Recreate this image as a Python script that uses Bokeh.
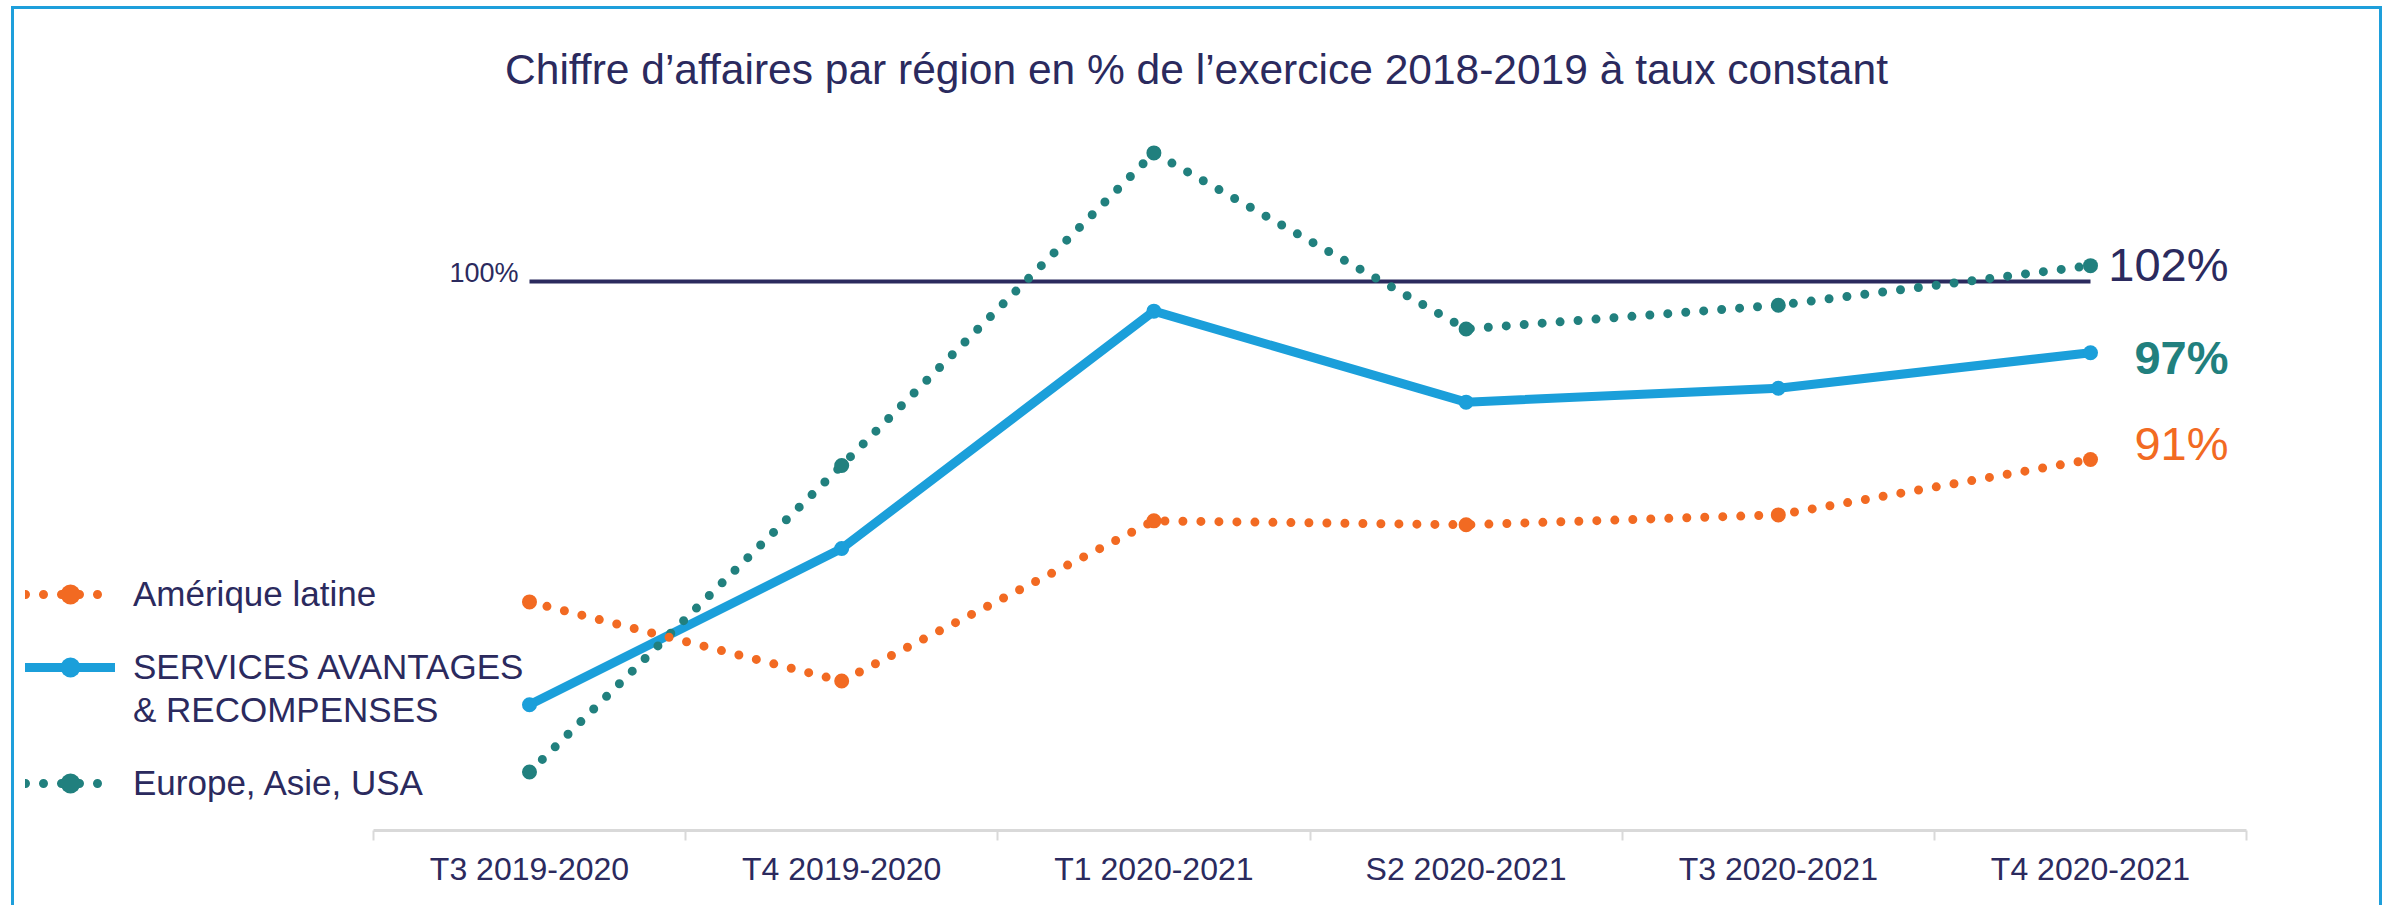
from bokeh.plotting import figure
from bokeh.models import (Range1d, FixedTicker, Legend, LegendItem, Label, BoxAnnotation)
from bokeh.embed import file_html
from bokeh.resources import INLINE
from bokeh.core.properties import value

# ---------------- data ----------------
categories = ["T3 2019-2020", "T4 2019-2020", "T1 2020-2021",
              "S2 2020-2021", "T3 2020-2021", "T4 2020-2021"]
amerique_latine = [83.8, 79.8, 87.9, 87.7, 88.2, 91.0]
services_avantages = [78.6, 86.5, 98.5, 93.9, 94.6, 96.4]
europe_asie_usa = [75.2, 90.7, 106.5, 97.6, 98.8, 100.8]
reference_level = 100
reference_label = "100%"
end_label_amerique = "91%"
end_label_services = "97%"
end_label_europe = "102%"
name_amerique = "Amérique latine"
name_services_1 = "SERVICES AVANTAGES"
name_services_2 = "& RECOMPENSES"
name_europe = "Europe, Asie, USA"
title_text = "Chiffre d’affaires par région en % de l’exercice 2018-2019 à taux constant"

# ---------------- style ----------------
NAVY = "#2B2A5E"
ORANGE = "#F26A22"
BLUE = "#1B9FDA"
TEAL = "#21807E"
FRAME_BLUE = "#1E9FDB"
AXIS_GREY = "#D9D9D9"
FONT = "Liberation Sans"

W, H = 2392, 905
FRAME_H = 830
xs = list(range(len(categories)))

grad = f"linear-gradient({FRAME_BLUE},{FRAME_BLUE})"
host_bg = (f"{grad} 11px 6px / 3px 899px no-repeat, "
           f"{grad} 2379px 6px / 3px 899px no-repeat, "
           f"{grad} 11px 6px / 2371px 3px no-repeat, white")

p = figure(width=W, height=H,
           x_range=Range1d(-1.6944, 5.9673), y_range=Range1d(72.244, 114.206),
           output_backend="svg", toolbar_location=None, y_axis_location=None,
           min_border_left=0, min_border_right=0, min_border_top=0, min_border_bottom=H - FRAME_H,
           styles={"background": host_bg})
p.outline_line_color = None
p.grid.visible = False
p.background_fill_color = None
p.border_fill_color = None

ax = p.xaxis[0]
ax.ticker = FixedTicker(ticks=xs, minor_ticks=[i - 0.5 for i in range(len(categories) + 1)])
ax.bounds = (-0.5, len(categories) - 0.5)
ax.major_label_overrides = {i: c for i, c in enumerate(categories)}
ax.major_tick_line_color = None
ax.major_tick_in = 0
ax.major_tick_out = 0
ax.minor_tick_line_color = AXIS_GREY
ax.minor_tick_line_width = 2
ax.minor_tick_in = 0
ax.minor_tick_out = 10
ax.axis_line_color = AXIS_GREY
ax.axis_line_width = 3
ax.major_label_text_font = FONT
ax.major_label_text_font_size = "32px"
ax.major_label_text_color = NAVY
ax.major_label_standoff = 10

# reference line 100%
p.line(x=[xs[0], xs[-1]], y=[reference_level, reference_level], line_color=NAVY, line_width=4)
p.text(x=[xs[0]], y=[reference_level], text=[reference_label], x_offset=-11, y_offset=-8,
       text_align="right", text_baseline="middle", text_font=value(FONT),
       text_font_size="27px", text_color=NAVY)

# series
r_bl = p.line(xs, services_avantages, line_color=BLUE, line_width=9, line_join="round", line_cap="round")
r_bm = p.scatter(xs, services_avantages, size=15, fill_color=BLUE, line_color=None)
r_tl = p.line(xs, europe_asie_usa, line_color=TEAL, line_width=9, line_dash="0 18", line_cap="round")
r_tm = p.scatter(xs, europe_asie_usa, size=15, fill_color=TEAL, line_color=None)
r_ol = p.line(xs, amerique_latine, line_color=ORANGE, line_width=9, line_dash="0 18", line_cap="round")
r_om = p.scatter(xs, amerique_latine, size=15, fill_color=ORANGE, line_color=None)
r_none = p.scatter(x=[], y=[], size=1, fill_alpha=0, line_alpha=0)

# end labels
p.text(x=[xs[-1]], y=[europe_asie_usa[-1]], text=[end_label_europe], x_offset=138, y_offset=-1,
       text_align="right", text_baseline="middle", text_font=value(FONT),
       text_font_size="47px", text_color=NAVY)
p.text(x=[xs[-1]], y=[services_avantages[-1]], text=[end_label_services], x_offset=138, y_offset=5,
       text_align="right", text_baseline="middle", text_font=value(FONT),
       text_font_size="47px", text_font_style="bold", text_color=TEAL)
p.text(x=[xs[-1]], y=[amerique_latine[-1]], text=[end_label_amerique], x_offset=138, y_offset=-16,
       text_align="right", text_baseline="middle", text_font=value(FONT),
       text_font_size="47px", text_color=ORANGE)

# legend rows (separate blocks so the two-line label keeps its glyph on the first line)
def make_legend(item, center_y):
    return Legend(items=[item], location=(25, FRAME_H - (center_y + 25)),
                  glyph_width=90, glyph_height=50, label_standoff=18,
                  label_text_font=FONT, label_text_font_size="35px", label_text_color=NAVY,
                  label_height=40, border_line_color=None, background_fill_alpha=0,
                  padding=0, spacing=0, margin=0)

p.add_layout(make_legend(LegendItem(label=name_amerique, renderers=[r_ol, r_om]), 594))
p.add_layout(make_legend(LegendItem(label=name_services_1, renderers=[r_bl, r_bm]), 667))
p.add_layout(make_legend(LegendItem(label=name_services_2, renderers=[r_none]), 710))
p.add_layout(make_legend(LegendItem(label=name_europe, renderers=[r_tl, r_tm]), 783))

# title
p.add_layout(Label(x=1196, y=FRAME_H - 69, x_units="screen", y_units="screen", text=title_text,
                   text_align="center", text_baseline="middle", text_font=FONT,
                   text_font_size="42.5px", text_color=NAVY))

# outer blue frame (part inside the plot frame; the host background draws the full frame)
p.add_layout(BoxAnnotation(left=12, right=2380, top=7, bottom=1000,
                           left_units="canvas", right_units="canvas",
                           top_units="canvas", bottom_units="canvas", level="overlay",
                           fill_alpha=0, line_color=FRAME_BLUE, line_alpha=1, line_width=3))

open("out.html", "w").write(file_html(p, INLINE))
